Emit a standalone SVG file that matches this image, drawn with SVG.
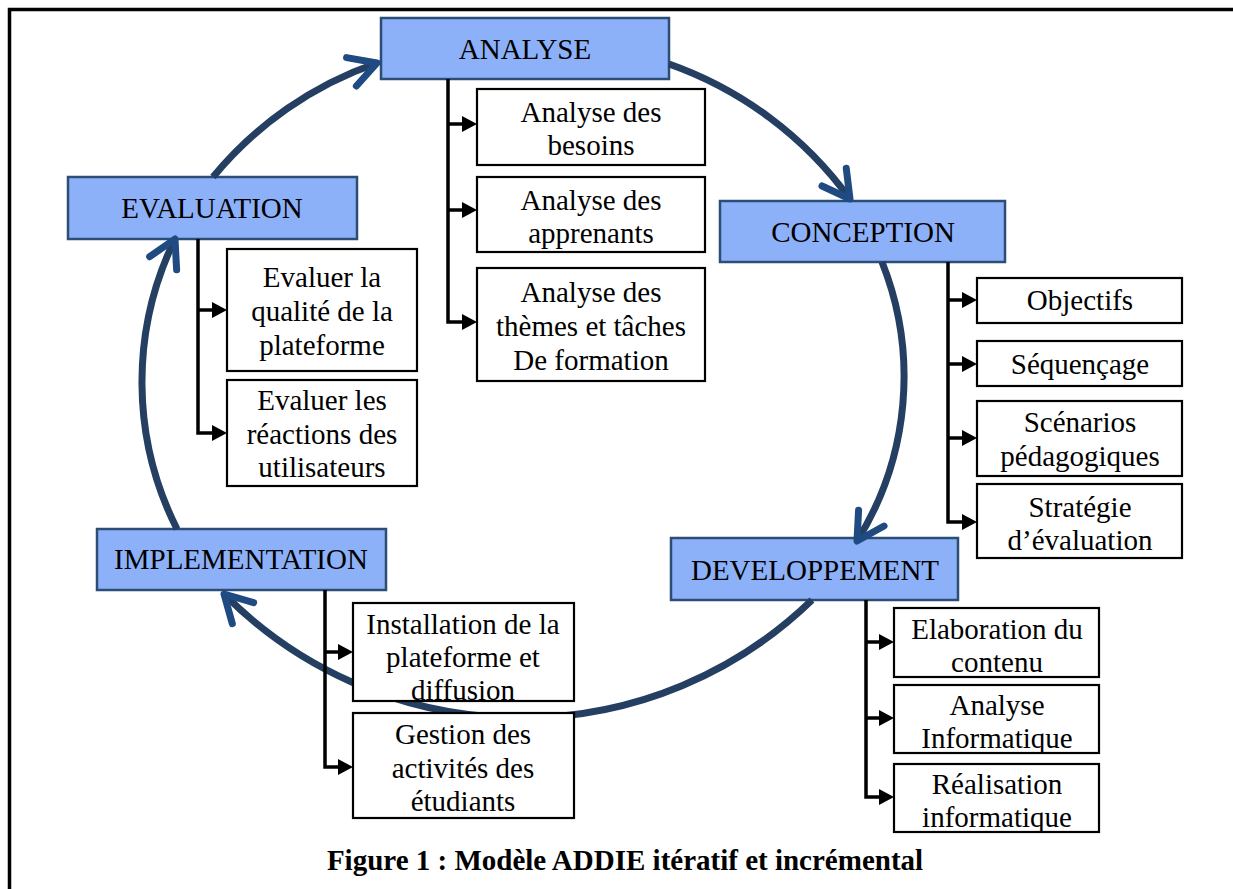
<svg xmlns="http://www.w3.org/2000/svg" width="1233" height="889" viewBox="0 0 1233 889">
<defs>
<style>
text{font-family:"Liberation Serif","Times New Roman",serif;font-size:29px;text-anchor:middle;fill:#000}
.phase rect{fill:#8DB1F8;stroke:#2C4D76;stroke-width:2.5}
.sub rect{fill:#fff;stroke:#000;stroke-width:2.2}
.arc{fill:none;stroke:#243F62;stroke-width:7;marker-end:url(#chev)}
.tree{fill:none;stroke:#000;stroke-width:3.5;marker-end:url(#tri)}
.cap{font-weight:bold}
</style>
<marker id="chev" markerUnits="userSpaceOnUse" orient="auto" overflow="visible" markerWidth="40" markerHeight="40" refX="0" refY="0">
<path d="M-27,-15 L0,0 L-27,15" fill="none" stroke="#1F4B82" stroke-width="7" stroke-linecap="round" stroke-linejoin="round"/>
</marker>
<marker id="tri" markerUnits="userSpaceOnUse" orient="auto" overflow="visible" markerWidth="20" markerHeight="20" refX="0" refY="0">
<path d="M-8,-8 L7,0 L-8,8 Z" fill="#000"/>
</marker>
</defs>
<rect width="1233" height="889" fill="#fff"/>
<path d="M9.5,889 V9.5 H1233" fill="none" stroke="#000" stroke-width="3.5"/>

<g id="phases" class="phase">
<g id="analyse"><rect x="381" y="18" width="288" height="61"/><text x="525" y="59">ANALYSE</text></g>
<g id="evaluation"><rect x="68" y="177" width="289" height="62"/><text x="212" y="218">EVALUATION</text></g>
<g id="conception"><rect x="720" y="201" width="285" height="61"/><text x="863" y="242">CONCEPTION</text></g>
<g id="developpement"><rect x="671" y="538" width="287" height="62"/><text x="815" y="580">DEVELOPPEMENT</text></g>
<g id="implementation"><rect x="97" y="529" width="289" height="61"/><text x="241" y="569">IMPLEMENTATION</text></g>
</g>

<g id="connectors">
<path class="arc" d="M669,64 A380,380 0 0 1 850,199"/>
<path class="arc" d="M882,262 A310,310 0 0 1 857,541"/>
<path class="arc" d="M812,600 A418,418 0 0 1 224,594"/>
<path class="arc" d="M177,529 A326,326 0 0 1 175,239"/>
<path class="arc" d="M213,177 A368,368 0 0 1 377,63"/>

<path class="tree" d="M448,79 V322 H470"/>
<path class="tree" d="M448,124 H470"/>
<path class="tree" d="M448,210 H470"/>

<path class="tree" d="M198,239 V433 H220"/>
<path class="tree" d="M198,310 H220"/>

<path class="tree" d="M948,262 V522 H970"/>
<path class="tree" d="M948,300 H970"/>
<path class="tree" d="M948,364 H970"/>
<path class="tree" d="M948,438 H970"/>

<path class="tree" d="M866,600 V797 H887"/>
<path class="tree" d="M866,642 H887"/>
<path class="tree" d="M866,718 H887"/>

<path class="tree" d="M325,590 V767 H346"/>
<path class="tree" d="M325,652 H346"/>
</g>

<g id="analyse-subs" class="sub">
<g id="a1"><rect x="477" y="89" width="228" height="76"/><text x="591" y="122">Analyse des</text><text x="591" y="155">besoins</text></g>
<g id="a2"><rect x="477" y="177" width="228" height="75"/><text x="591" y="210">Analyse des</text><text x="591" y="243">apprenants</text></g>
<g id="a3"><rect x="477" y="268" width="228" height="113"/><text x="591" y="302">Analyse des</text><text x="591" y="336">thèmes et tâches</text><text x="591" y="370">De formation</text></g>
</g>

<g id="evaluation-subs" class="sub">
<g id="e1"><rect x="227" y="249" width="190" height="122"/><text x="322" y="287">Evaluer la</text><text x="322" y="321">qualité de la</text><text x="322" y="355">plateforme</text></g>
<g id="e2"><rect x="227" y="380" width="190" height="106"/><text x="322" y="410">Evaluer les</text><text x="322" y="444">réactions des</text><text x="322" y="477">utilisateurs</text></g>
</g>

<g id="conception-subs" class="sub">
<g id="c1"><rect x="977" y="278" width="205" height="45"/><text x="1080" y="310">Objectifs</text></g>
<g id="c2"><rect x="977" y="341" width="205" height="45"/><text x="1080" y="374">Séquençage</text></g>
<g id="c3"><rect x="977" y="401" width="205" height="75"/><text x="1080" y="432">Scénarios</text><text x="1080" y="466">pédagogiques</text></g>
<g id="c4"><rect x="977" y="484" width="205" height="74"/><text x="1080" y="517">Stratégie</text><text x="1080" y="550">d’évaluation</text></g>
</g>

<g id="developpement-subs" class="sub">
<g id="d1"><rect x="894" y="608" width="205" height="69"/><text x="997" y="639">Elaboration du</text><text x="997" y="672">contenu</text></g>
<g id="d2"><rect x="894" y="685" width="205" height="68"/><text x="997" y="715">Analyse</text><text x="997" y="748">Informatique</text></g>
<g id="d3"><rect x="894" y="764" width="205" height="68"/><text x="997" y="794">Réalisation</text><text x="997" y="827">informatique</text></g>
</g>

<g id="implementation-subs" class="sub">
<g id="i1"><rect x="353" y="603" width="221" height="98"/><text x="463" y="634">Installation de la</text><text x="463" y="667">plateforme et</text><text x="463" y="700">diffusion</text></g>
<g id="i2"><rect x="353" y="713" width="221" height="105"/><text x="463" y="744">Gestion des</text><text x="463" y="778">activités des</text><text x="463" y="811">étudiants</text></g>
</g>

<text class="cap" x="625" y="870">Figure 1 : Modèle ADDIE itératif et incrémental</text>
</svg>
